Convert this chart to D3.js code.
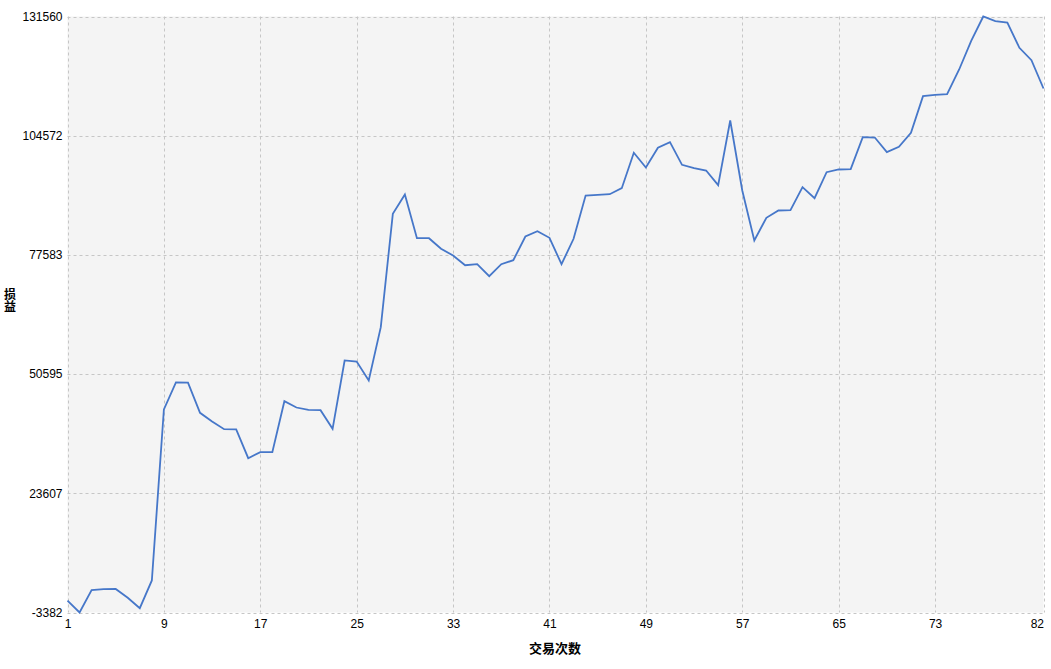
<!DOCTYPE html>
<html>
<head>
<meta charset="utf-8">
<script src="https://cdn.jsdelivr.net/npm/d3@7"></script>
<style>
  html, body { margin: 0; padding: 0; background: #ffffff; }
  svg { display: block; }
</style>
</head>
<body>
<svg id="chart" width="1051" height="669"></svg>
<script>
// ---- data ----
const trades = d3.range(1, 83);
const pnl = [
  -700, -3382, 1670, 1900, 1950, -50, -2400, 3870, 42580, 48700,
  48650, 41830, 39860, 38120, 38100, 31550, 32910, 32920, 44460, 43030,
  42510, 42420, 38210, 53680, 53450, 49150, 61210, 86890, 91260, 81370,
  81360, 78970, 77450, 75250, 75480, 72760, 75480, 76380, 81750, 82950,
  81460, 75480, 81230, 91030, 91190, 91330, 92690, 100700, 97370, 101830,
  103100, 97980, 97210, 96690, 93370, 108010, 92170, 80840, 85980, 87640,
  87700, 92910, 90420, 96310, 96920, 96990, 104230, 104160, 100840, 102060,
  105230, 113520, 113830, 113970, 119560, 126060, 131560, 130500, 130200, 124470,
  121670, 115260
];
const xTicks = [1, 9, 17, 25, 33, 41, 49, 57, 65, 73, 82];
const yMin = -3382, yMax = 131560;
const yTicks = [-3382, 23607, 50595, 77583, 104572, 131560];
const xTitle = "交易次数";
const yTitle = "损益";

// ---- layout ----
const L = 67.5, R = 1043.5, T = 16.5, B = 612.5;
const svg = d3.select("#chart");
const font = "'Liberation Sans', Arial, sans-serif";

const x = d3.scaleLinear().domain([1, 82]).range([L, R]);
const y = d3.scaleLinear().domain([yMin, yMax]).range([B, T]);

svg.append("rect")
  .attr("x", L).attr("y", T).attr("width", R - L).attr("height", B - T)
  .attr("fill", "#f4f4f4");

// grid
const grid = svg.append("g")
  .attr("stroke", "#c6c6c6").attr("stroke-width", 1)
  .attr("stroke-dasharray", "3,3").attr("fill", "none");
grid.selectAll("line.v").data(xTicks).join("line")
  .attr("class", "v")
  .attr("x1", d => Math.round(x(d)) + 0.5).attr("x2", d => Math.round(x(d)) + 0.5)
  .attr("y1", T).attr("y2", B);
grid.selectAll("line.h").data(yTicks).join("line")
  .attr("class", "h")
  .attr("x1", L).attr("x2", R)
  .attr("y1", d => Math.round(y(d)) + 0.5).attr("y2", d => Math.round(y(d)) + 0.5);

// axes (labels only)
const yAxis = d3.axisLeft(y).tickValues(yTicks).tickSize(0).tickPadding(5)
  .tickFormat(d => String(d));
const gy = svg.append("g").attr("transform", `translate(${L},0)`).call(yAxis);
gy.select(".domain").remove();
gy.selectAll("text").attr("font-family", font).attr("font-size", 12).attr("fill", "#000");

const xAxis = d3.axisBottom(x).tickValues(xTicks).tickSize(0).tickPadding(7)
  .tickFormat(d => String(d));
const gx = svg.append("g").attr("transform", `translate(0,${B})`).call(xAxis);
gx.select(".domain").remove();
gx.selectAll("text").attr("font-family", font).attr("font-size", 12).attr("fill", "#000")
  .attr("text-anchor", (d, i) => i === xTicks.length - 1 ? "end" : "middle");

// line
const line = d3.line().x((d, i) => x(trades[i])).y(d => y(d));
svg.append("path").datum(pnl)
  .attr("d", line)
  .attr("fill", "none")
  .attr("stroke", "#4677c9")
  .attr("stroke-width", 1.8)
  .attr("stroke-linejoin", "miter");

// titles
svg.append("text")
  .attr("x", 555).attr("y", 653)
  .attr("text-anchor", "middle")
  .attr("font-family", "'Noto Sans CJK SC', sans-serif")
  .attr("font-weight", "bold").attr("font-size", 13)
  .text(xTitle);

svg.append("text")
  .attr("x", 10).attr("y", 300)
  .attr("text-anchor", "middle")
  .style("writing-mode", "vertical-rl")
  .attr("font-family", "'Noto Sans CJK SC', sans-serif")
  .attr("font-weight", "bold").attr("font-size", 12)
  .text(yTitle);
</script>
</body>
</html>
